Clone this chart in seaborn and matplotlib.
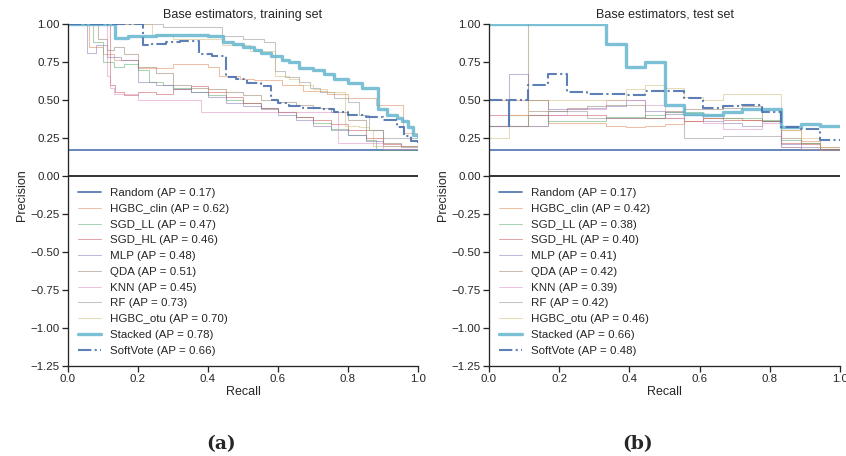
import matplotlib
matplotlib.use('Agg')
import matplotlib.pyplot as plt
import seaborn as sns
import numpy as np

# Legend labels / colours (seaborn "deep" palette)
MODELS = ['HGBC_clin', 'SGD_LL', 'SGD_HL', 'MLP', 'QDA', 'KNN', 'RF', 'HGBC_otu']
COLORS = ['#DD8452', '#55A868', '#C44E52', '#8172B3', '#937860', '#DA8BC3', '#8C8C8C', '#CCB974']
BLUE = '#4C72B0'
CYAN = '#64B5CD'

# ---- training set: (recall, precision) step vertices ----
TRAIN_AP = [0.62, 0.47, 0.46, 0.48, 0.51, 0.45, 0.73, 0.70]
TRAIN_RANDOM_AP = 0.17
TRAIN_STACKED_AP = 0.78
TRAIN_SOFTVOTE_AP = 0.66

tr_clin_r = [0, 0.06, 0.10, 0.13, 0.20, 0.30, 0.40, 0.43, 0.49, 0.53, 0.61, 0.67, 0.74, 0.80, 0.88, 0.957, 1.0]
tr_clin_p = [1.00, 0.85, 0.80, 0.76, 0.71, 0.74, 0.72, 0.66, 0.64, 0.63, 0.60, 0.56, 0.54, 0.51, 0.47, 0.28, 0.28]
tr_ll_r = [0, 0.07, 0.10, 0.13, 0.16, 0.20, 0.23, 0.27, 0.30, 0.35, 0.40, 0.45, 0.50, 0.55, 0.60, 0.65, 0.70, 0.75, 0.80, 0.85, 0.88, 1.0]
tr_ll_p = [1.00, 0.88, 0.75, 0.72, 0.74, 0.70, 0.62, 0.60, 0.58, 0.55, 0.53, 0.50, 0.48, 0.45, 0.42, 0.39, 0.35, 0.31, 0.27, 0.24, 0.17, 0.17]
tr_hl_r = [0, 0.12, 0.135, 0.16, 0.20, 0.25, 0.30, 0.35, 0.40, 0.45, 0.50, 0.55, 0.60, 0.65, 0.70, 0.75, 0.80, 0.85, 0.90, 0.95, 1.0]
tr_hl_p = [1.00, 0.60, 0.55, 0.53, 0.55, 0.54, 0.57, 0.59, 0.55, 0.52, 0.48, 0.45, 0.42, 0.39, 0.37, 0.34, 0.30, 0.25, 0.21, 0.20, 0.18]
tr_mlp_r = [0, 0.054, 0.08, 0.11, 0.15, 0.20, 0.25, 0.30, 0.35, 0.40, 0.45, 0.50, 0.55, 0.60, 0.65, 0.70, 0.75, 0.80, 0.85, 0.90, 1.0]
tr_mlp_p = [1.00, 0.81, 0.86, 0.78, 0.76, 0.62, 0.60, 0.57, 0.55, 0.52, 0.48, 0.46, 0.44, 0.40, 0.37, 0.33, 0.30, 0.27, 0.23, 0.20, 0.18]
tr_qda_r = [0, 0.087, 0.11, 0.13, 0.16, 0.20, 0.25, 0.30, 0.35, 0.40, 0.45, 0.50, 0.55, 0.60, 0.65, 0.70, 0.75, 0.80, 0.85, 0.90, 0.95, 1.0]
tr_qda_p = [1.00, 0.90, 0.83, 0.85, 0.80, 0.72, 0.68, 0.60, 0.58, 0.57, 0.55, 0.53, 0.50, 0.49, 0.47, 0.45, 0.42, 0.37, 0.30, 0.22, 0.19, 0.18]
tr_knn_r = [0, 0.11, 0.12, 0.13, 0.20, 0.38, 0.77, 0.90, 1.0]
tr_knn_p = [1.00, 0.66, 0.58, 0.54, 0.50, 0.42, 0.22, 0.18, 0.18]
tr_rf_r = [0, 0.27, 0.44, 0.50, 0.56, 0.59, 0.62, 0.66, 0.69, 0.72, 0.76, 0.80, 0.83, 0.86, 0.90, 1.0]
tr_rf_p = [1.00, 0.98, 0.92, 0.90, 0.88, 0.69, 0.65, 0.62, 0.58, 0.55, 0.51, 0.49, 0.40, 0.30, 0.25, 0.25]
tr_otu_r = [0, 0.24, 0.30, 0.44, 0.52, 0.59, 0.63, 0.66, 0.70, 0.74, 0.79, 0.83, 0.86, 0.87, 1.0]
tr_otu_p = [1.00, 0.93, 0.90, 0.86, 0.82, 0.66, 0.64, 0.60, 0.57, 0.55, 0.33, 0.32, 0.30, 0.20, 0.20]

tr_stacked_r = [0, 0.134, 0.17, 0.21, 0.25, 0.32, 0.40, 0.444, 0.47, 0.50, 0.53, 0.55, 0.58, 0.61, 0.63,
                0.66, 0.70, 0.73, 0.76, 0.80, 0.84, 0.87, 0.885, 0.91, 0.94, 0.955, 0.97, 0.985, 1.0]
tr_stacked_p = [1.00, 0.91, 0.92, 0.92, 0.93, 0.93, 0.92, 0.88, 0.87, 0.85, 0.83, 0.81, 0.79, 0.76, 0.75,
                0.71, 0.70, 0.67, 0.64, 0.61, 0.58, 0.58, 0.44, 0.40, 0.38, 0.36, 0.32, 0.27, 0.26]
tr_soft_r = [0, 0.213, 0.24, 0.28, 0.32, 0.375, 0.41, 0.45, 0.48, 0.51, 0.55, 0.58, 0.60, 0.63, 0.67,
             0.72, 0.76, 0.80, 0.85, 0.90, 0.94, 0.96, 0.98, 1.0]
tr_soft_p = [1.00, 0.86, 0.87, 0.88, 0.89, 0.80, 0.79, 0.65, 0.64, 0.61, 0.59, 0.50, 0.48, 0.46, 0.45,
             0.44, 0.42, 0.40, 0.39, 0.37, 0.32, 0.26, 0.23, 0.22]

# ---- test set ----
TEST_AP = [0.42, 0.38, 0.40, 0.41, 0.42, 0.39, 0.42, 0.46]
TEST_RANDOM_AP = 0.17
TEST_STACKED_AP = 0.66
TEST_SOFTVOTE_AP = 0.48

TEST_RECALL = [0.0, 0.056, 0.111, 0.167, 0.222, 0.278, 0.333, 0.389, 0.444, 0.5,
               0.556, 0.611, 0.667, 0.722, 0.778, 0.833, 0.889, 0.944, 1.0]
te_clin_p = [0.50, 0.50, 0.50, 0.35, 0.35, 0.35, 0.33, 0.32, 0.33, 0.34, 0.36, 0.38, 0.38, 0.37, 0.36, 0.30, 0.23, 0.18, 0.18]
te_ll_p = [0.33, 0.33, 0.40, 0.36, 0.36, 0.36, 0.39, 0.39, 0.40, 0.42, 0.42, 0.40, 0.38, 0.38, 0.37, 0.24, 0.22, 0.18, 0.18]
te_hl_p = [0.40, 0.40, 0.40, 0.40, 0.40, 0.40, 0.38, 0.38, 0.38, 0.38, 0.36, 0.38, 0.37, 0.37, 0.36, 0.22, 0.21, 0.19, 0.19]
te_mlp_p = [0.33, 0.67, 0.50, 0.44, 0.44, 0.45, 0.46, 0.50, 0.43, 0.41, 0.40, 0.36, 0.35, 0.33, 0.36, 0.21, 0.19, 0.18, 0.18]
te_knn_p = [0.33, 0.33, 0.33, 0.40, 0.44, 0.44, 0.50, 0.50, 0.47, 0.38, 0.40, 0.35, 0.31, 0.31, 0.35, 0.19, 0.18, 0.17, 0.17]
te_rf_p = [0.33, 0.33, 0.33, 0.43, 0.43, 0.38, 0.38, 0.38, 0.38, 0.42, 0.25, 0.25, 0.26, 0.26, 0.26, 0.19, 0.18, 0.17, 0.17]
te_otu_p = [0.25, 0.40, 0.50, 0.50, 0.50, 0.50, 0.50, 0.57, 0.60, 0.58, 0.52, 0.50, 0.54, 0.54, 0.54, 0.30, 0.25, 0.19, 0.19]
te_stacked_p = [1.0, 1.0, 1.0, 1.0, 1.0, 1.0, 0.87, 0.72, 0.75, 0.47, 0.41, 0.40, 0.42, 0.44, 0.44, 0.32, 0.34, 0.33, 0.33]
# curves with a vertical spike (repeated recall)
te_qda_r = [0.0, 0.056, 0.111, 0.111, 0.167, 0.222, 0.278, 0.333, 0.389, 0.444, 0.5,
            0.556, 0.611, 0.667, 0.722, 0.778, 0.833, 0.889, 0.944, 1.0]
te_qda_p = [0.33, 0.33, 1.0, 0.43, 0.43, 0.45, 0.46, 0.47, 0.47, 0.38, 0.43,
            0.44, 0.44, 0.45, 0.46, 0.36, 0.25, 0.22, 0.18, 0.18]
te_soft_r = [0.0, 0.056, 0.056, 0.111, 0.167, 0.222, 0.278, 0.333, 0.389, 0.444, 0.5,
             0.556, 0.611, 0.667, 0.722, 0.778, 0.833, 0.889, 0.944, 1.0]
te_soft_p = [0.50, 0.33, 0.50, 0.60, 0.67, 0.55, 0.54, 0.54, 0.53, 0.56, 0.56,
             0.51, 0.45, 0.46, 0.47, 0.42, 0.32, 0.31, 0.235, 0.235]

Y_TICKS = [1.0, 0.75, 0.5, 0.25, 0.0, -0.25, -0.5, -0.75, -1.0, -1.25]
X_TICKS = [0.0, 0.2, 0.4, 0.6, 0.8, 1.0]

sns.set_theme(style='ticks')
plt.rcParams['font.family'] = ['Liberation Sans', 'DejaVu Sans']


def step(ax, r, p, **kw):
    sns.lineplot(x=r, y=p, ax=ax, estimator=None, sort=False, drawstyle='steps-post', **kw)


def draw_panel(ax, title, base, ap, random_ap, stacked, stacked_ap, soft, soft_ap):
    step(ax, [0, 1], [random_ap, random_ap], color=BLUE, lw=1.6,
         label=f'Random (AP = {random_ap:.2f})')
    for (r, p), name, col, a in zip(base, MODELS, COLORS, ap):
        step(ax, r, p, color=col, lw=1.0, alpha=0.5, label=f'{name} (AP = {a:.2f})')
    step(ax, stacked[0], stacked[1], color=CYAN, lw=3.2, alpha=0.85,
         label=f'Stacked (AP = {stacked_ap:.2f})')
    step(ax, soft[0], soft[1], color=BLUE, lw=2.0, ls='-.', alpha=0.9,
         label=f'SoftVote (AP = {soft_ap:.2f})')
    ax.axhline(0, color='black', lw=1.5)

    ax.set_xlim(0, 1)
    ax.set_ylim(-1.25, 1.0)
    ax.set_xticks(X_TICKS)
    ax.set_yticks(Y_TICKS)
    ax.tick_params(pad=2)
    ax.set_xlabel('Recall', labelpad=2)
    ax.set_ylabel('Precision', labelpad=2)
    ax.set_title(title)
    sns.despine(ax=ax)
    ax.legend(loc='lower left', frameon=False)


fig = plt.figure(figsize=(11.28, 6.08), dpi=75)
ax1 = fig.add_axes([68 / 846, 90 / 456, 350 / 846, 342 / 456])
ax2 = fig.add_axes([489 / 846, 90 / 456, 351 / 846, 342 / 456])

train_base = [(tr_clin_r, tr_clin_p), (tr_ll_r, tr_ll_p), (tr_hl_r, tr_hl_p), (tr_mlp_r, tr_mlp_p),
              (tr_qda_r, tr_qda_p), (tr_knn_r, tr_knn_p), (tr_rf_r, tr_rf_p), (tr_otu_r, tr_otu_p)]
test_base = [(TEST_RECALL, te_clin_p), (TEST_RECALL, te_ll_p), (TEST_RECALL, te_hl_p),
             (TEST_RECALL, te_mlp_p), (te_qda_r, te_qda_p), (TEST_RECALL, te_knn_p),
             (TEST_RECALL, te_rf_p), (TEST_RECALL, te_otu_p)]

draw_panel(ax1, 'Base estimators, training set', train_base, TRAIN_AP, TRAIN_RANDOM_AP,
           (tr_stacked_r, tr_stacked_p), TRAIN_STACKED_AP, (tr_soft_r, tr_soft_p), TRAIN_SOFTVOTE_AP)
draw_panel(ax2, 'Base estimators, test set', test_base, TEST_AP, TEST_RANDOM_AP,
           (TEST_RECALL, te_stacked_p), TEST_STACKED_AP, (te_soft_r, te_soft_p), TEST_SOFTVOTE_AP)

# panel captions
fig.text(221 / 846, 1 - 444 / 456, '(a)', ha='center', va='center', fontsize=18,
         fontweight='bold', family='DejaVu Serif')
fig.text(638 / 846, 1 - 444 / 456, '(b)', ha='center', va='center', fontsize=18,
         fontweight='bold', family='DejaVu Serif')

fig.savefig('out.png', dpi=75)
